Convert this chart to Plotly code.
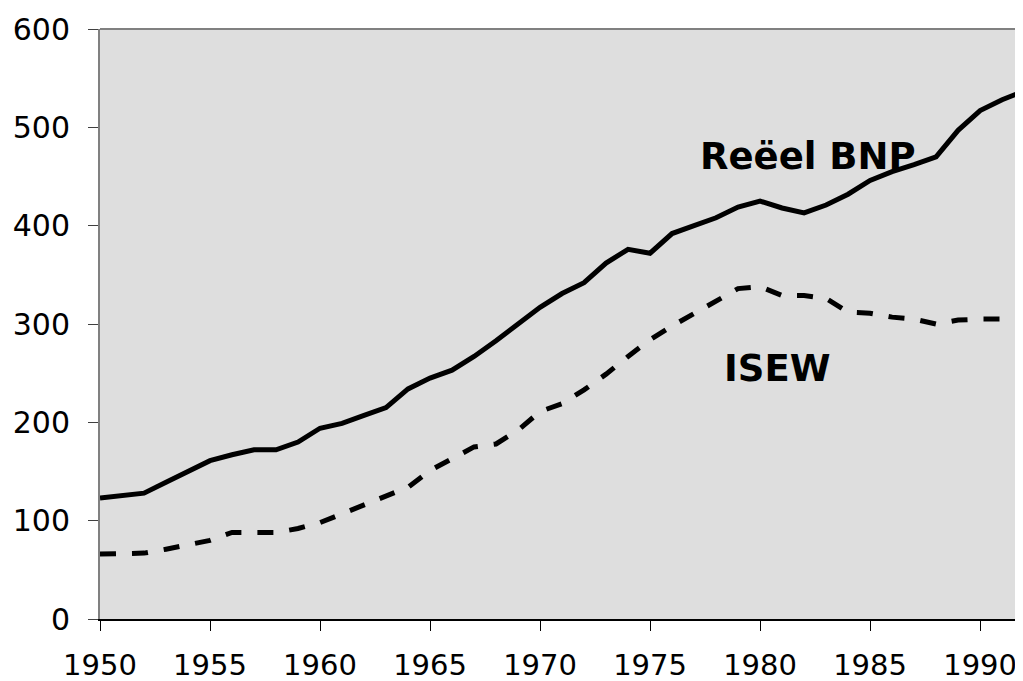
import plotly.graph_objects as go

years = list(range(1950, 1993))
bnp = [123, 126, 128, 139, 150, 161, 167, 172, 172, 180,
       194, 199, 207, 215, 234, 245, 253, 267, 283, 300,
       317, 331, 342, 362, 376, 372, 392, 400, 408, 419,
       425, 418, 413, 421, 432, 446, 455, 462, 470, 497,
       517, 528, 537]
isew = [66, 66, 67, 71, 75, 80, 88, 88, 88, 92,
        98, 107, 116, 126, 134, 151, 163, 175, 178, 192,
        211, 219, 233, 249, 267, 284, 298, 311, 324, 336,
        338, 329, 329, 326, 312, 311, 307, 305, 300, 304,
        305, 305, 305]
x_ticks = [1950, 1955, 1960, 1965, 1970, 1975, 1980, 1985, 1990]
y_ticks = [0, 100, 200, 300, 400, 500, 600]
labels = ["Reëel BNP", "ISEW"]
label_pos = [(1982.2, 470), (1980.8, 255)]

fig = go.Figure()
fig.add_trace(go.Scatter(x=years, y=bnp, mode="lines", name=labels[0],
                         line=dict(color="black", width=5)))
fig.add_trace(go.Scatter(x=years, y=isew, mode="lines", name=labels[1],
                         line=dict(color="black", width=5, dash="16px,16px")))

for txt, (ax, ay) in zip(labels, label_pos):
    fig.add_annotation(x=ax, y=ay, text=txt, showarrow=False,
                       font=dict(family="DejaVu Sans", size=37, color="black", weight="bold"),
                       xanchor="center", yanchor="middle")

fig.add_shape(type="line", xref="paper", yref="paper", x0=0, x1=1, y0=1, y1=1,
              line=dict(color="#808080", width=2))

fig.update_layout(
    width=1015, height=673,
    margin=dict(l=92, r=0, t=21, b=62, autoexpand=False),
    paper_bgcolor="white", plot_bgcolor="#DEDEDE",
    showlegend=False,
    font=dict(family="DejaVu Sans", size=30, color="black"),
)
fig.update_xaxes(range=[1950, 1991.95], tickvals=x_ticks, ticktext=[str(v) for v in x_ticks],
                 showgrid=False, zeroline=False, showline=True, linecolor="black", linewidth=2,
                 ticks="outside", ticklen=10, tickcolor="black", tickwidth=1,
                 tickfont=dict(size=29),
                 ticklabelstandoff=9, automargin=False)
fig.update_yaxes(range=[0, 600], tickvals=y_ticks,
                 showgrid=False, zeroline=False, showline=True, linecolor="#808080", linewidth=2,
                 ticks="outside", ticklen=10, tickcolor="#404040", tickwidth=1,
                 ticklabelstandoff=12, automargin=False)

fig.write_html("out.html")
